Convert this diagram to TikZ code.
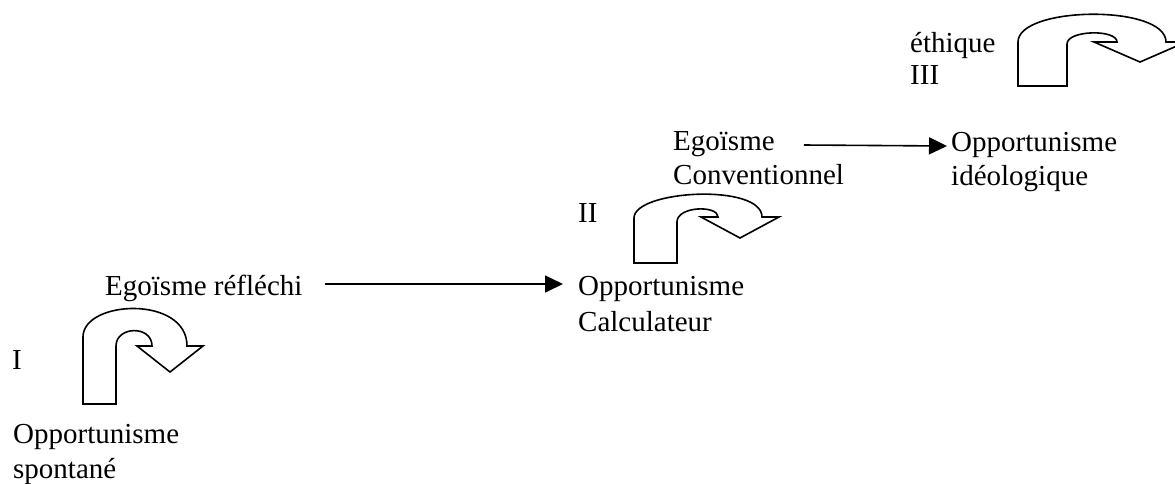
\documentclass[tikz,border=0pt]{standalone}
\usepackage{fontspec}
\setmainfont{Liberation Serif}
\usetikzlibrary{arrows.meta}
\begin{document}
\begin{tikzpicture}[x=1pt,y=-1pt,
  lbl/.style={anchor=base west, inner sep=0pt, font=\fontsize{29}{35}\selectfont},
  uturn/.style={draw=black, line width=1.6pt, line join=miter, fill=white},
  conn/.style={line width=1.6pt, -{Triangle[length=18pt,width=17pt]}}]
\useasboundingbox (0,0) rectangle (1175,483);
\clip (0,0) rectangle (1175,483);

% U-turn arrows
\draw[uturn] (83,404) -- (83,337) .. controls (83,300) and (187,295) .. (187,346)
  -- (203,346) -- (170,372) -- (137,346) -- (152,346)
  .. controls (152,325) and (116,326) .. (116,346) -- (116,404) -- cycle;
\draw[uturn] (634,263) -- (634,218) .. controls (634,190) and (762,183) .. (762,217)
  -- (779,217) -- (740,238) -- (701,217) -- (718,217)
  .. controls (718,205) and (677,206) .. (677,222) -- (677,263) -- cycle;
\draw[uturn] (1018,86) -- (1018,42) .. controls (1018,6) and (1166,4) .. (1166,42)
  -- (1186,42) -- (1140,62) -- (1094,42) -- (1117,42)
  .. controls (1117,29) and (1067,30) .. (1067,44) -- (1067,86) -- cycle;

% Labels
\node[lbl] (n1) at (12,369) {I};
\node[lbl] (o1a) at (13,443) {Opportunisme};
\node[lbl] (o1b) at (13,478) {spontané};
\node[lbl] (e1) at (105,295) {Egoïsme réfléchi};
\node[lbl] (n2) at (578,222) {II};
\node[lbl] (o2a) at (578,295) {Opportunisme};
\node[lbl] (o2b) at (578,331) {Calculateur};
\node[lbl] (e2a) at (673,150) {Egoïsme};
\node[lbl] (e2b) at (673,184) {Conventionnel};
\node[lbl] (o3a) at (951,151) {Opportunisme};
\node[lbl] (o3b) at (951,185) {idéologique};
\node[lbl] (eth) at (910,52) {éthique};
\node[lbl] (n3) at (910,84) {III};

% Connectors
\draw[conn] ([xshift=22pt,yshift=11pt]e1.base east) -- ([xshift=-15pt,yshift=11pt]o2a.base west);
\draw[conn] ([xshift=29pt,yshift=5pt]e2a.base east) -- ([xshift=-4pt,yshift=5pt]o3a.base west);
\end{tikzpicture}
\end{document}
